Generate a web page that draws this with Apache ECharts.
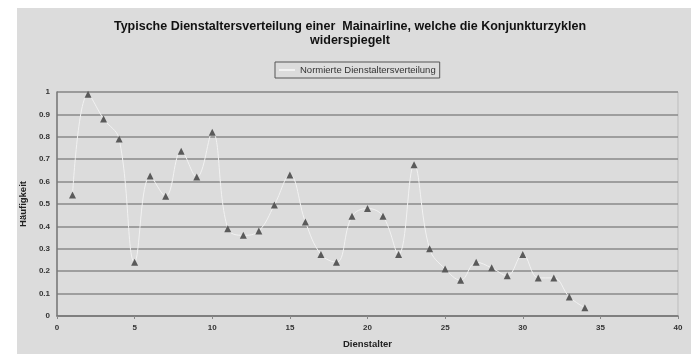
<!DOCTYPE html>
<html>
<head>
<meta charset="utf-8">
<script src="https://cdn.jsdelivr.net/npm/echarts@6/dist/echarts.min.js"></script>
<style>
html,body{margin:0;padding:0;background:#ffffff;}
#chart{width:700px;height:354px;}
</style>
</head>
<body>
<div id="chart"></div>
<script>
const titleText = "Typische Dienstaltersverteilung einer  Mainairline, welche die Konjunkturzyklen\nwiderspiegelt";
const seriesName = "Normierte Dienstaltersverteilung";
const xAxisName = "Dienstalter";
const yAxisName = "Häufigkeit";
const dienstalter = [1,2,3,4,5,6,7,8,9,10,11,12,13,14,15,16,17,18,19,20,21,22,23,24,25,26,27,28,29,30,31,32,33,34];
const haeufigkeit = [0.54,0.99,0.88,0.79,0.24,0.625,0.535,0.735,0.62,0.82,0.39,0.36,0.38,0.495,0.63,0.42,0.275,0.24,0.445,0.48,0.445,0.275,0.675,0.30,0.21,0.16,0.24,0.215,0.18,0.275,0.17,0.17,0.085,0.037];

const chart = echarts.init(document.getElementById('chart'), null, {renderer:'canvas'});
const fontFam = '"Liberation Sans", Arial, sans-serif';
chart.setOption({
  backgroundColor: '#ffffff',
  animation: false,
  graphic: [{
    type: 'rect', z: -10, silent: true,
    shape: {x: 17, y: 8, width: 674, height: 346},
    style: {fill: '#dcdcdc'}
  }],
  title: {
    text: titleText,
    left: 'center', top: 15,
    textStyle: {fontFamily: fontFam, fontSize: 12.5, fontWeight: 'bold', color: '#111', lineHeight: 14}
  },
  legend: {
    top: 62, left: 275,
    data: [{name: seriesName, icon: 'rect', itemStyle: {color: '#f2f2f2'}}],
    itemWidth: 16, itemHeight: 2, itemGap: 4,
    borderColor: '#555', borderWidth: 1, padding: [3, 4],
    textStyle: {fontFamily: fontFam, fontSize: 9.5, color: '#333'}
  },
  grid: {
    left: 57, right: 22, top: 92, bottom: 36,
    show: true, backgroundColor: '#dcdcdc', borderColor: '#bdbdbd', borderWidth: 1
  },
  xAxis: {
    type: 'value', min: 0, max: 40, interval: 5,
    name: xAxisName, nameLocation: 'middle', nameGap: 23,
    nameTextStyle: {fontFamily: fontFam, fontSize: 9.5, fontWeight: 'bold', color: '#222'},
    axisLine: {show: true, lineStyle: {color: '#777', width: 1.5}},
    axisTick: {show: true, length: 3, lineStyle: {color: '#888'}},
    axisLabel: {fontFamily: fontFam, fontSize: 8, fontWeight: 'bold', color: '#333', margin: 8},
    splitLine: {show: false}
  },
  yAxis: {
    type: 'value', min: 0, max: 1, interval: 0.1,
    name: yAxisName, nameLocation: 'middle', nameGap: 27,
    nameTextStyle: {fontFamily: fontFam, fontSize: 9.5, fontWeight: 'bold', color: '#222'},
    axisLine: {show: true, lineStyle: {color: '#777', width: 1.5}},
    axisTick: {show: false},
    axisLabel: {fontFamily: fontFam, fontSize: 8, fontWeight: 'bold', color: '#333', margin: 7,
      formatter: v => (Math.round(v*10)/10).toString()},
    splitLine: {show: true, lineStyle: {color: '#8a8a8a', width: 1.5}}
  },
  series: [{
    name: seriesName,
    type: 'line',
    smooth: 0.4,
    data: dienstalter.map((x, i) => [x, haeufigkeit[i]]),
    symbol: 'triangle', symbolSize: 7,
    itemStyle: {color: '#5a5a5a'},
    lineStyle: {color: '#f2f2f2', width: 1}
  }]
});
</script>
</body>
</html>
